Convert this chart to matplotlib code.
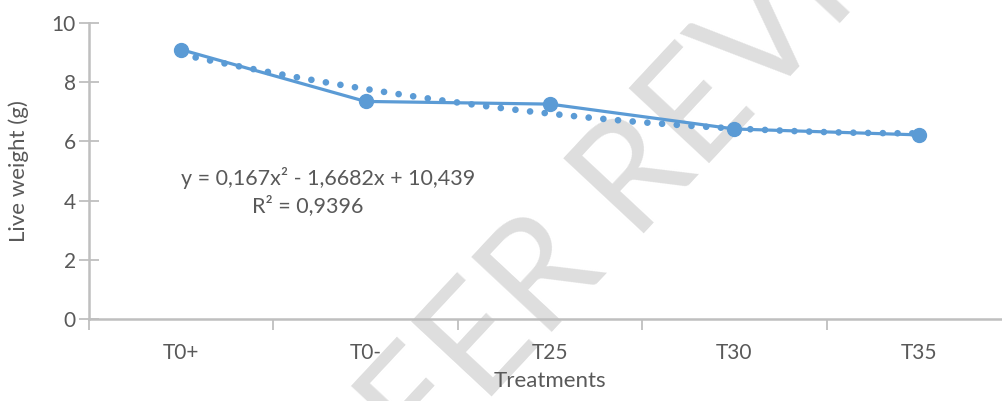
import numpy as np
import matplotlib
matplotlib.use("Agg")
import matplotlib.pyplot as plt

# === DATA ===
treatments = ["T0+", "T0-", "T25", "T30", "T35"]
live_weight = [9.1, 7.35, 7.26, 6.42, 6.22]
# polynomial trendline coefficients (x^2, x, const) as printed on the chart
trend_coef = [0.167, -1.6682, 10.439]
r_squared = 0.9396

# === STYLE ===
BLUE = "#5b9bd5"
TEXT = "#595959"
AXIS = "#bfbfbf"
plt.rcParams["font.family"] = ["Lato", "DejaVu Sans"]

fig = plt.figure(figsize=(10.03, 4.01), dpi=100)
ax = fig.add_axes([89 / 1003, 82 / 401, 922 / 1003, 296 / 401])
ax.set_facecolor("none")

x = np.arange(len(treatments))
ax.plot(x, live_weight, color=BLUE, linewidth=2.3, marker="o", markersize=10,
        zorder=3)

# trendline (Excel counts categories from 1)
xs = np.linspace(0, len(treatments) - 1, 200)
ys = np.polyval(trend_coef, xs + 1)
ax.plot(xs, ys, color=BLUE, linewidth=4.8, linestyle=(0, (0.01, 2.2)),
        dash_capstyle="round", zorder=2)

ax.set_xlim(-0.5, len(treatments) - 0.5)
ax.set_ylim(0, 10)
ax.set_yticks(np.arange(0, 11, 2))

# category labels centred, tick marks on the boundaries
ax.set_xticks(x)
ax.set_xticklabels(treatments)
ax.set_xticks(np.arange(-0.5, len(treatments), 1), minor=True)
ax.tick_params(axis="x", which="major", length=0, pad=17, labelsize=15,
               labelcolor=TEXT)
ax.tick_params(axis="x", which="minor", length=8, width=1.3, color=AXIS,
               direction="out")
ax.tick_params(axis="y", length=15, width=1.3, color=AXIS, direction="inout",
               labelsize=15, labelcolor=TEXT, pad=2)

for side in ["top", "right"]:
    ax.spines[side].set_visible(False)
for side in ["left", "bottom"]:
    ax.spines[side].set_color(AXIS)
    ax.spines[side].set_linewidth(1.8)

ax.set_xlabel("Treatments", fontsize=16, color=TEXT, labelpad=6)
ax.set_ylabel("Live weight (g)", fontsize=16, color=TEXT, labelpad=16)

# trendline equation
eq = "y = 0,167x² - 1,6682x + 10,439"
fig.text(328 / 1003, 1 - 178 / 401, eq, fontsize=15.5, color=TEXT,
         ha="center", va="center")
fig.text(308 / 1003, 1 - 206 / 401, f"R² = {r_squared:.4f}".replace(".", ","),
         fontsize=15.5, color=TEXT, ha="center", va="center")

# watermark
fig.text(662 / 1003, 1 - 150 / 401, "PEER REVIEW", fontsize=110,
         family=["Liberation Sans Narrow", "Lato"],
         color="#dedede", rotation=47, ha="center", va="center",
         rotation_mode="anchor", zorder=-1)

fig.savefig("out.png", dpi=100)
